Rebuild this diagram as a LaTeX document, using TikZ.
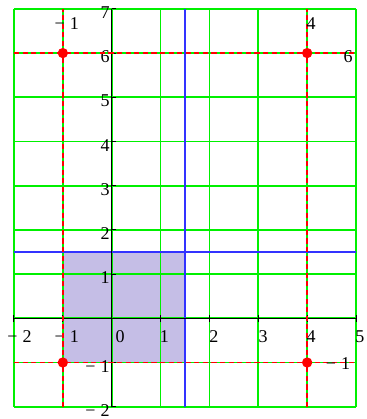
\documentclass[tikz,border=0pt]{standalone}
\usepackage{fontspec}
\setmainfont{Liberation Serif}
\usepackage{tikz}

\definecolor{gridgreen}{RGB}{0,240,0}
\definecolor{lineblue}{RGB}{50,50,255}
\definecolor{regionfill}{RGB}{197,190,230}

\begin{document}
\begin{tikzpicture}[x=1cm,y=0.9046cm,
          every node/.style={inner sep=0pt,font=\fontsize{10.5}{12}\selectfont},
          dot/.style={circle,fill=red,minimum size=6pt},
          ylab/.style={anchor=east,xshift=-1pt,yshift=-2.2pt}]
        \useasboundingbox (-2.286,-2.278) rectangle (5.205,7.201);
        % region
        \fill[regionfill] (-1,-1) rectangle (1.5,1.5);
        \draw[gridgreen,line width=1pt,step=1] (-2,-2) grid (5,7);
        \draw[lineblue,line width=1pt] (1.5,-2) -- (1.5,7);
        \draw[lineblue,line width=1pt] (-2,1.5) -- (5,1.5);
        % axes
        \draw[black,line width=0.6pt] (-2,0) -- (5,0);
        \draw[black,line width=0.6pt] (0,-2) -- (0,7);
        \foreach \t in {-2,...,5} \draw[line width=0.6pt] (\t,0) ++(0,-2pt) -- ++(0,4pt);
        \foreach \t in {-2,...,7} \draw[line width=0.6pt] (0,\t) -- ++(2.5pt,0);
        \node (xm2) at (-1.887,-0.423) {−\hspace{3pt}2};
        \node (xm1) at (-0.921,-0.423) {−\hspace{3pt}1};
        \node (x0)  at (0.17,-0.423)   {0};
        \node (x1)  at (1.08,-0.423)   {1};
        \node (x2)  at (2.09,-0.423)   {2};
        \node (x3)  at (3.10,-0.423)   {3};
        \node (x4)  at (4.08,-0.423)   {4};
        \node (x5)  at (5.08,-0.423)   {5};
        \node[ylab] (y7)  at (0,7)  {7};
        \node[ylab] (y6)  at (0,6)  {6};
        \node[ylab] (y5)  at (0,5)  {5};
        \node[ylab] (y4)  at (0,4)  {4};
        \node[ylab] (y3)  at (0,3)  {3};
        \node[ylab] (y2)  at (0,2)  {2};
        \node[ylab] (y1)  at (0,1)  {1};
        \node[ylab] (ym1) at (0,-1) {−\hspace{3pt}1};
        \node[ylab] (ym2) at (0,-2) {−\hspace{3pt}2};
        % traces
        \draw[red,line width=0.9pt,dash pattern=on 3pt off 2pt] (-1,-2) -- (-1,7);
        \draw[red,line width=0.9pt,dash pattern=on 3pt off 2pt] (4,-2) -- (4,7);
        \draw[red,line width=0.9pt,dash pattern=on 3pt off 2pt] (-2,6) -- (5,6);
        \draw[red,line width=0.9pt,dash pattern=on 3pt off 2pt] (-2,-1) -- (5,-1);
        \node[dot] (p1) at (-1,6)  {};
        \node[dot] (p2) at (4,6)   {};
        \node[dot] (p3) at (-1,-1) {};
        \node[dot] (p4) at (4,-1)  {};
        \node (tm1) at (-0.921,6.66) {−\hspace{3pt}1};
        \node (t4)  at (4.08,6.66)   {4};
        \node (t6)  at (4.84,5.92)   {6};
        \node (tr1) at (4.63,-1.02)  {−\hspace{3pt}1};
      \end{tikzpicture}
\end{document}
